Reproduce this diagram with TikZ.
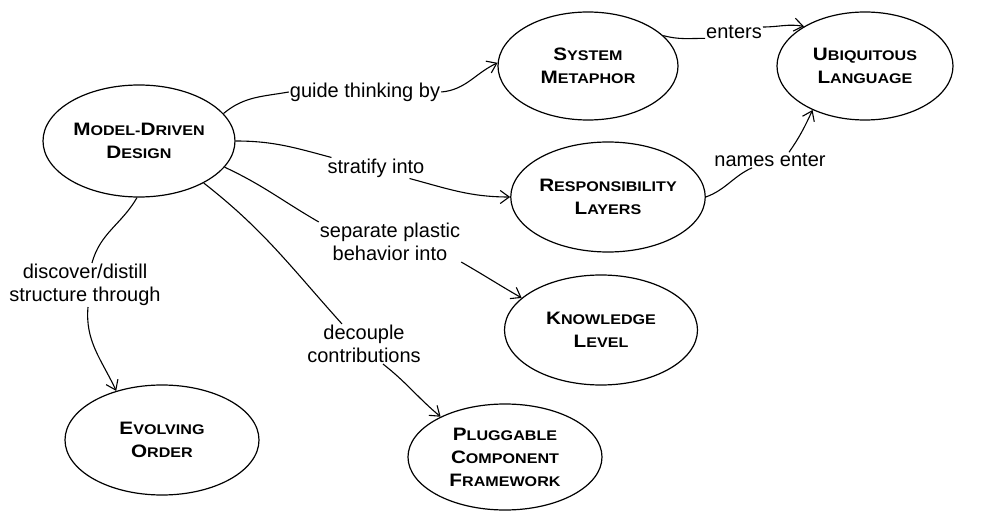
\documentclass[tikz,border=0pt]{standalone}
\usepackage{fontspec}
\setmainfont{Liberation Sans}
\newfontfamily\nodefont[FakeStretch=1.15]{Liberation Sans}
\usetikzlibrary{shapes.geometric,arrows.meta}
\newcommand{\SCap}[2]{{\fontsize{18}{23}\selectfont #1}{\fontsize{14}{23}\selectfont #2}}
\tikzset{
  ell/.style={ellipse, draw, line width=1.2pt, inner sep=0pt, align=center,
    font=\nodefont\bfseries\fontsize{14}{23}\selectfont},
  lbl/.style={inner sep=1pt, align=center, font=\fontsize{20}{23}\selectfont},
  conn/.style={line width=1.1pt},
  arr/.style={conn, -{Straight Barb[length=9pt,width=13pt]}}
}
\begin{document}
\begin{tikzpicture}[x=1pt,y=1pt]
\useasboundingbox (0,0) rectangle (996,512);
% nodes
\node[ell, minimum width=192pt, minimum height=112pt] (mdd) at (139,371) {\SCap{M}{ODEL}-\SCap{D}{RIVEN}\\\SCap{D}{ESIGN}};
\node[ell, minimum width=180pt, minimum height=108pt] (sm) at (588,446) {\SCap{S}{YSTEM}\\\SCap{M}{ETAPHOR}};
\node[ell, minimum width=176pt, minimum height=108pt] (ul) at (865,446) {\SCap{U}{BIQUITOUS}\\\SCap{L}{ANGUAGE}};
\node[ell, minimum width=181pt, minimum height=110pt] (rl) at (608,315) {\SCap{R}{ESPONSIBILITY}\\\SCap{L}{AYERS}};
\node[ell, minimum width=193pt, minimum height=110pt] (kl) at (601,182) {\SCap{K}{NOWLEDGE}\\\SCap{L}{EVEL}};
\node[ell, minimum width=194pt, minimum height=106pt] (pcf) at (505,55) {\SCap{P}{LUGGABLE}\\\SCap{C}{OMPONENT}\\\SCap{F}{RAMEWORK}};
\node[ell, minimum width=194pt, minimum height=110pt] (eo) at (162,72) {\SCap{E}{VOLVING}\\\SCap{O}{RDER}};
% labels
\node[lbl] (lg) at (365,420) {guide thinking by};
\node[lbl] (ls) at (376,344) {stratify into};
\node[lbl] (lsp) at (390,270) {separate plastic\\behavior into};
\node[lbl] (ldi) at (85,227) {discover/distill\\structure through};
\node[lbl] (ldc) at (364,168) {decouple\\contributions};
\node[lbl] (le) at (734,480) {enters};
\node[lbl] (ln) at (770,352) {names enter};
% connectors
\draw[conn] (mdd.18) to[out=40,in=190] (lg.west);
\draw[arr] (lg.east) to[out=5,in=205] (sm.178);
\draw[conn] (mdd.east) to[out=0,in=165] ([xshift=5pt]ls.north west);
\draw[arr] ([xshift=-16pt]ls.south east) to[out=-15,in=180] (rl.west);
\draw[conn] (mdd.-17) to[out=-25,in=150] (lsp.north west);
\draw[arr] (lsp.south east) to[out=-30,in=150] (kl.158);
\draw[conn] (mdd.-33) to[out=-38,in=132] ([xshift=-22pt]ldc.north);
\draw[arr] ([xshift=19pt]ldc.south) to[out=-38,in=140] (pcf.148);
\draw[conn] (mdd.-92) to[out=-120,in=75] ([xshift=7pt]ldi.north);
\draw[arr] ([xshift=3pt]ldi.south) to[out=-95,in=115] (eo.133);
\draw[conn] (sm.22) to[out=-15,in=180] (le.base west);
\draw[arr] ([yshift=5pt]le.east) to[out=0,in=170] (ul.147);
\draw[conn] (rl.east) to[out=20,in=205] ([xshift=-18pt]ln.south);
\draw[arr] ([xshift=19pt]ln.north) to[out=55,in=-115] (ul.-140);
\end{tikzpicture}
\end{document}
